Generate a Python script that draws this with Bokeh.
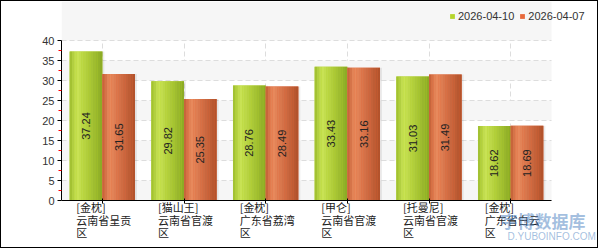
import numpy as np
from bokeh.plotting import figure
from bokeh.models import (Range1d, FixedTicker, Label, Legend, LegendItem)
from bokeh.core.properties import value
from bokeh.embed import file_html
from bokeh.resources import INLINE

# ---- data ----
categories = [
    "[金枕]\n云南省呈贡\n区",
    "[猫山王]\n云南省官渡\n区",
    "[金枕]\n广东省荔湾\n区",
    "[甲仑]\n云南省官渡\n区",
    "[托曼尼]\n云南省官渡\n区",
    "[金枕]\n广东省白云\n区",
]
series_names = ["2026-04-10", "2026-04-07"]
values_0410 = [37.24, 29.82, 28.76, 33.43, 31.03, 18.62]
values_0407 = [31.65, 25.35, 28.49, 33.16, 31.49, 18.69]
y_ticks = [0, 5, 10, 15, 20, 25, 30, 35, 40]

# ---- styling / layout ----
FONT = "Liberation Sans"
CJK = "Noto Sans CJK SC"
legend_colors = ["#b6d52b", "#e8693a"]
gradient_stops = [
    [(0.0, "#9cbc2c"), (0.22, "#cae457"), (0.5, "#b4d13e"), (1.0, "#8aa923")],
    [(0.0, "#c25e36"), (0.22, "#e98b5e"), (0.5, "#d7744a"), (1.0, "#b0502a")],
]

def hex2rgb(h):
    return np.array([int(h[i:i + 2], 16) for i in (1, 3, 5)], dtype=float)

def grad(stops, t):
    for (t0, c0), (t1, c1) in zip(stops[:-1], stops[1:]):
        if t0 <= t <= t1:
            f = (t - t0) / (t1 - t0)
            c = hex2rgb(c0) * (1 - f) + hex2rgb(c1) * f
            return "#%02x%02x%02x" % tuple(int(round(v)) for v in c)
    return stops[-1][1]

n = len(categories)
centers = np.arange(n) + 0.5
bar_w = 0.4
offsets = [-0.2, 0.2]
series_values = [values_0410, values_0407]
y_max = y_ticks[-1]

W, H = 598, 248            # canvas (plus 1px css border)
LEFT = 60                  # frame left
PLOT_W, PLOT_H = 490, 160  # plotting area for the data
PLOT_TOP = 39
px_x = PLOT_W / n
px_y = PLOT_H / y_max
x_end = (W - LEFT) / px_x
y_bottom_px = PLOT_TOP + PLOT_H
y_start = -(H - y_bottom_px) / px_y
y_end = y_bottom_px / px_y

p = figure(width=W, height=H, output_backend="svg", toolbar_location=None,
           x_range=Range1d(0, x_end), y_range=Range1d(y_start, y_end),
           min_border_left=LEFT, min_border_right=0, min_border_top=0, min_border_bottom=0)
p.styles = {"border": "1px solid black"}
p.outline_line_color = None
p.background_fill_color = "white"
p.border_fill_color = "white"

# grids
p.ygrid.ticker = FixedTicker(ticks=y_ticks)
p.ygrid.bounds = (0, y_max)
p.ygrid.cross_bounds = (0, n)
p.ygrid.grid_line_color = "#dddddd"
p.ygrid.grid_line_dash = "5 3"
p.ygrid.band_fill_color = "#f6f6f6"
p.ygrid.band_fill_alpha = 1.0
p.xgrid.ticker = FixedTicker(ticks=list(centers))
p.xgrid.cross_bounds = (0, y_max)
p.xgrid.grid_line_color = "#dddddd"
p.xgrid.grid_line_dash = "5 3"

# axes
p.yaxis.bounds = (0, y_max)
p.yaxis.ticker = FixedTicker(ticks=y_ticks, minor_ticks=[t + 2.5 for t in y_ticks[:-1]])
p.yaxis.axis_line_color = "black"
p.yaxis.major_tick_line_color = "black"
p.yaxis.major_tick_out = 4
p.yaxis.major_tick_in = 0
p.yaxis.minor_tick_line_color = "red"
p.yaxis.minor_tick_out = 3
p.yaxis.minor_tick_in = 0
p.yaxis.major_label_text_font = FONT
p.yaxis.major_label_text_font_size = "11px"
p.yaxis.major_label_text_color = "#333333"
p.yaxis.major_label_standoff = 3

label_shift = 26 / px_x
label_pos = list(centers - label_shift)
p.xaxis.fixed_location = 0
p.xaxis.bounds = (0, n)
p.xaxis.ticker = FixedTicker(ticks=label_pos, minor_ticks=list(centers))
p.xaxis.major_label_overrides = {float(x): c for x, c in zip(label_pos, categories)}
p.xaxis.axis_line_color = "black"
p.xaxis.major_tick_line_color = None
p.xaxis.major_tick_out = 0
p.xaxis.major_tick_in = 0
p.xaxis.minor_tick_line_color = "black"
p.xaxis.minor_tick_in = 2
p.xaxis.minor_tick_out = 3
p.xaxis.major_label_orientation = -1e-4
p.xaxis.major_label_standoff = 16
p.xaxis.major_label_text_font = CJK
p.xaxis.major_label_text_font_size = "11px"
p.xaxis.major_label_text_line_height = 0.8
p.xaxis.major_label_text_color = "#222222"

# bars (cylinder-like shading built from narrow strips) with a faint shadow
N = 14
legend_items = []
for s, (vals, off) in enumerate(zip(series_values, offsets)):
    p.vbar(x=centers + off + 2 / px_x, top=vals, width=bar_w, bottom=0,
           fill_color="#000000", fill_alpha=0.07, line_color=None)
for s, (vals, off) in enumerate(zip(series_values, offsets)):
    base = p.vbar(x=centers + off, top=vals, width=bar_w, bottom=0,
                  fill_color=legend_colors[s], line_color=None)
    legend_items.append(LegendItem(label=series_names[s], renderers=[base]))
    sw = bar_w / N
    for k in range(N):
        t = (k + 0.5) / N
        col = grad(gradient_stops[s], t)
        p.vbar(x=centers + off - bar_w / 2 + (k + 0.5) * sw, top=vals, bottom=0,
               width=sw * 1.02, fill_color=col, line_color=None)
    p.text(x=centers + off, y=np.array(vals) / 2, text=["%.2f" % v for v in vals],
           angle=np.pi / 2, text_align="center", text_baseline="middle",
           text_font=value(FONT), text_font_size="11px", text_color="#222222")

# legend (top right)
legend = Legend(items=legend_items, location=(388, H - 21), orientation="horizontal",
                glyph_width=6, glyph_height=6, label_standoff=3, spacing=5,
                padding=0, margin=0, border_line_color=None, background_fill_alpha=0,
                label_text_font=FONT, label_text_font_size="11px",
                label_text_color="#333333", label_height=11)
p.add_layout(legend)

# watermark
p.add_layout(Label(x=439 / px_x, y=-20 / px_y, text="宇博数据库",
                   text_font=CJK, text_font_size="17px", text_font_style="bold",
                   text_color="#4a80c0", text_alpha=0.5, text_baseline="middle"))
p.add_layout(Label(x=446 / px_x, y=-35.5 / px_y, text="D.YUBOINFO.COM",
                   text_font=FONT, text_font_size="10px",
                   text_color="#4a80c0", text_alpha=0.5, text_baseline="middle"))

open("out.html", "w").write(file_html(p, INLINE))
